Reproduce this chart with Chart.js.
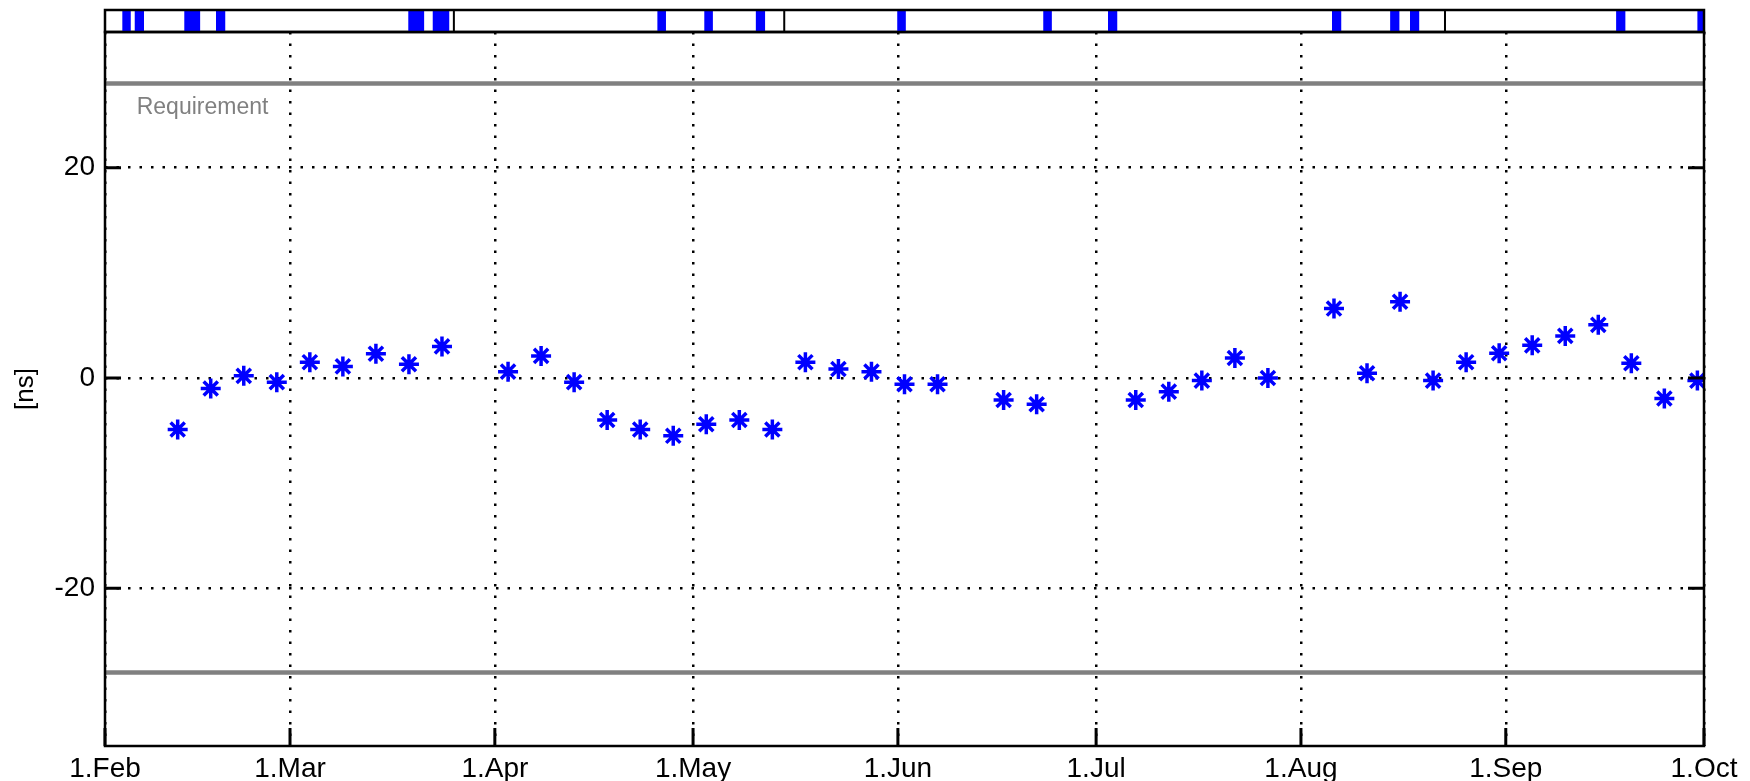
<!DOCTYPE html>
<html>
<head>
<meta charset="utf-8">
<script src="https://cdn.jsdelivr.net/npm/chart.js@4.4.1/dist/chart.umd.min.js"></script>
<style>
  html, body { margin: 0; padding: 0; background: #fff; }
  #wrap { position: relative; width: 1750px; height: 781px; }
  canvas { position: absolute; left: 0; top: 0; }
</style>
</head>
<body>
<div id="wrap">
  <canvas id="mainChart" width="1750" height="781"></canvas>
  <canvas id="stripChart" width="1750" height="44"></canvas>
</div>
<script>
// x values are days counted from 1.Feb
const monthDays = [0, 28, 59, 89, 120, 150, 181, 212, 242]
const monthLabels = ['1.Feb', '1.Mar', '1.Apr', '1.May', '1.Jun', '1.Jul', '1.Aug', '1.Sep', '1.Oct']
const yTicks = [-20, 0, 20]

const obsDays = [11, 16, 21, 26, 31, 36, 41, 46, 51, 61, 66, 71, 76, 81, 86, 91, 96, 101,
  106, 111, 116, 121, 126, 136, 141, 156, 161, 166, 171, 176, 186, 191, 196, 201, 206,
  211, 216, 221, 226, 231, 236, 241]
const obsValues = [-4.9, -1.0, 0.2, -0.4, 1.5, 1.1, 2.3, 1.3, 3.0, 0.6, 2.1, -0.4, -4.0,
  -4.9, -5.5, -4.4, -4.0, -4.9, 1.5, 0.85, 0.6, -0.6, -0.6, -2.1, -2.5, -2.1, -1.3,
  -0.25, 1.9, 0.0, 6.6, 0.45, 7.25, -0.25, 1.5, 2.35, 3.1, 4.0, 5.05, 1.4, -1.95, -0.25]

const requirement = 28

// blue marks in the top strip (start / end day) and the black separators
const gapStart = [2.6, 4.5, 12.0, 16.8, 45.9, 49.6, 83.6, 90.7, 98.5, 119.9, 142.0, 151.8,
  185.7, 194.5, 197.5, 228.7, 241.0]
const gapEnd = [3.9, 5.9, 14.4, 18.2, 48.3, 52.1, 84.9, 92.0, 99.9, 121.2, 143.3, 153.2,
  187.1, 195.9, 198.9, 230.1, 242]
const dividers = [52.8, 102.8, 202.8]

const font = 'Liberation Sans'

const frame = {
  id: 'frame',
  afterDraw(chart) {
    const {ctx, chartArea: a, scales: {x, y}} = chart
    ctx.save()
    ctx.strokeStyle = '#000'
    ctx.lineWidth = 2.5
    ctx.strokeRect(a.left, a.top, a.right - a.left, a.bottom - a.top)
    ctx.lineWidth = 3
    ctx.beginPath()
    for (const v of yTicks) {
      const py = y.getPixelForValue(v)
      ctx.moveTo(a.left, py); ctx.lineTo(a.left + 16, py)
      ctx.moveTo(a.right, py); ctx.lineTo(a.right - 16, py)
    }
    for (const d of monthDays) {
      const px = x.getPixelForValue(d)
      ctx.moveTo(px, a.bottom); ctx.lineTo(px, a.bottom - 18)
    }
    ctx.stroke()
    // requirement label
    ctx.fillStyle = '#808080'
    ctx.font = '23px "' + font + '"'
    ctx.textBaseline = 'alphabetic'
    ctx.fillText('Requirement', x.getPixelForValue(4.8), y.getPixelForValue(25.1))
    ctx.restore()
  }
}

new Chart(document.getElementById('mainChart'), {
  type: 'scatter',
  data: {
    datasets: [{
      label: 'measured',
      data: obsDays.map((d, i) => ({x: d, y: obsValues[i]})),
      pointStyle: 'star',
      pointRadius: 10,
      borderWidth: 3.5,
      borderColor: '#0000ff',
      backgroundColor: '#0000ff',
      showLine: false
    }, {
      label: 'upper',
      type: 'line',
      data: [{x: 0, y: requirement}, {x: 242, y: requirement}],
      borderColor: '#808080',
      borderWidth: 4.5,
      pointRadius: 0
    }, {
      label: 'lower',
      type: 'line',
      data: [{x: 0, y: -requirement}, {x: 242, y: -requirement}],
      borderColor: '#808080',
      borderWidth: 4.5,
      pointRadius: 0
    }]
  },
  options: {
    responsive: false,
    animation: false,
    devicePixelRatio: 1,
    layout: {padding: {top: 32, right: 46, left: 0, bottom: 0}},
    plugins: {legend: {display: false}, tooltip: {enabled: false}},
    scales: {
      x: {
        type: 'linear',
        min: 0,
        max: 242,
        afterBuildTicks(scale) { scale.ticks = monthDays.map(v => ({value: v})) },
        afterFit(scale) { scale.height = 35 },
        ticks: {
          autoSkip: false,
          maxRotation: 0,
          padding: 6,
          color: '#000',
          font: {family: font, size: 28},
          callback: (v) => monthLabels[monthDays.indexOf(v)]
        },
        grid: {color: '#000', lineWidth: 2.5, drawTicks: false},
        border: {display: false, dash: [2.5, 9]}
      },
      y: {
        min: -35,
        max: 32.9,
        afterBuildTicks(scale) { scale.ticks = yTicks.map(v => ({value: v})) },
        afterFit(scale) { scale.width = 105 },
        ticks: {
          padding: 10,
          color: '#000',
          font: {family: font, size: 28}
        },
        title: {
          display: true,
          text: '[ns]',
          color: '#000',
          font: {family: font, size: 26},
          padding: {top: 10, bottom: 0}
        },
        grid: {color: '#000', lineWidth: 2.5, drawTicks: false},
        border: {display: false, dash: [2.5, 9]}
      }
    }
  },
  plugins: [frame]
})

const stripFrame = {
  id: 'stripFrame',
  afterDraw(chart) {
    const {ctx, chartArea: a} = chart
    ctx.save()
    ctx.strokeStyle = '#000'
    ctx.lineWidth = 2.5
    ctx.strokeRect(a.left, a.top, a.right - a.left, a.bottom - a.top)
    ctx.restore()
  }
}

const stripMarks = []
gapStart.forEach((s, i) => {
  stripMarks.push({x: s, y: 0}, {x: s, y: 1}, {x: gapEnd[i], y: 1}, {x: gapEnd[i], y: 0})
})
const dividerLines = []
for (const d of dividers) {
  dividerLines.push({x: d, y: 0}, {x: d, y: 1}, {x: d, y: null})
}

new Chart(document.getElementById('stripChart'), {
  type: 'line',
  data: {
    datasets: [{
      label: 'marks',
      data: stripMarks,
      fill: 'origin',
      backgroundColor: '#0000ff',
      borderWidth: 0,
      pointRadius: 0,
      tension: 0
    }, {
      label: 'dividers',
      data: dividerLines,
      borderColor: '#000',
      borderWidth: 2,
      pointRadius: 0,
      spanGaps: false
    }]
  },
  options: {
    responsive: false,
    animation: false,
    devicePixelRatio: 1,
    layout: {padding: {top: 10, right: 46, left: 105, bottom: 12}},
    plugins: {legend: {display: false}, tooltip: {enabled: false}},
    scales: {
      x: {type: 'linear', min: 0, max: 242, display: false},
      y: {min: 0, max: 1, display: false}
    }
  },
  plugins: [stripFrame]
})
</script>
</body>
</html>
